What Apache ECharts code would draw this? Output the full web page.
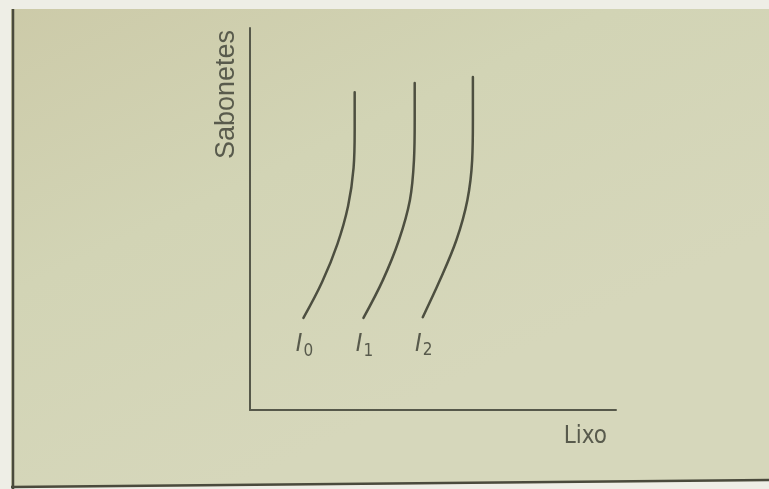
<!DOCTYPE html>
<html>
<head>
<meta charset="utf-8">
<script src="https://cdn.jsdelivr.net/npm/echarts@6/dist/echarts.min.js"></script>
<style>
  html, body { margin: 0; padding: 0; background: #f2f2ea; }
  #main { width: 769px; height: 489px; }
</style>
</head>
<body>
<div id="main"></div>
<script>
// curvas de indiferença (eixos 0..100)
const curveNames = ['0', '1', '2'];
const curveI0 = [[28.6, 83.2], [28.6, 73.3], [28.3, 63.4], [26.8, 53.4], [23.9, 43.5], [19.7, 33.5], [14.6, 24.1]];
const curveI1 = [[45.0, 85.6], [45.0, 75.9], [44.8, 65.4], [43.7, 55.0], [40.7, 44.5], [36.3, 34.0], [31.0, 24.1]];
const curveI2 = [[60.9, 87.2], [60.9, 75.9], [60.7, 65.4], [59.4, 55.0], [56.4, 44.5], [51.9, 34.0], [47.2, 24.3]];
const curves = [curveI0, curveI1, curveI2];

const ink = '#4d4f40';
const textInk = '#585a4c';
const narrow = 'DejaVu Sans Condensed, Liberation Sans Narrow, Roboto, sans-serif';

const chart = echarts.init(document.getElementById('main'));

// monta as séries, rótulo I_n no ponto de baixo
const series = curves.map((pts, k) => ({
  type: 'line',
  smooth: 0.35,
  symbol: 'circle',
  symbolSize: 0,
  showSymbol: true,
  lineStyle: { color: ink, width: 2.5, cap: 'round' },
  data: pts.map((p, i) => i === pts.length - 1 ? {
    value: p,
    label: {
      show: true,
      position: 'bottom',
      distance: 12,
      offset: [1, 0],
      formatter: '{i|I}{s|' + curveNames[k] + '}',
      rich: {
        i: { fontFamily: narrow, fontStyle: 'italic', fontSize: 25, color: textInk, lineHeight: 30, verticalAlign: 'middle' },
        s: { fontFamily: narrow, fontSize: 17, color: textInk, lineHeight: 30, verticalAlign: 'bottom', padding: [12, 0, 0, 1] }
      }
    }
  } : p)
}));

var option = {
  backgroundColor: {
    type: 'linear', x: 0, y: 0, x2: 0.3, y2: 1,
    colorStops: [
      { offset: 0, color: '#cccaa8' },
      { offset: 0.5, color: '#d2d4b5' },
      { offset: 1, color: '#d6d7bb' }
    ]
  },
  animation: false,
  grid: { left: 250, top: 28, right: 153, bottom: 79 },
  xAxis: {
    type: 'value', min: 0, max: 100,
    axisLine: { show: true, lineStyle: { color: '#56584a', width: 2 } },
    axisTick: { show: false }, axisLabel: { show: false }, splitLine: { show: false },
    name: 'Lixo',
    nameLocation: 'end',
    nameGap: -9,
    nameTextStyle: {
      fontFamily: narrow, fontSize: 24, color: textInk,
      align: 'right', verticalAlign: 'top', padding: [15, 0, 0, 0]
    }
  },
  yAxis: {
    type: 'value', min: 0, max: 100,
    axisLine: { show: true, lineStyle: { color: '#56584a', width: 2 } },
    axisTick: { show: false }, axisLabel: { show: false }, splitLine: { show: false },
    name: 'Sabonetes',
    nameLocation: 'end',
    nameRotate: 90,
    nameGap: -2,
    nameTextStyle: {
      fontFamily: 'Liberation Sans, Arial, sans-serif', fontSize: 27, color: textInk,
      align: 'right', verticalAlign: 'bottom', padding: [0, 0, 10, 0]
    }
  },
  graphic: [
    { type: 'rect', silent: true, shape: { x: 0, y: 0, width: 769, height: 9 }, style: { fill: '#eeeee6' } },
    { type: 'rect', silent: true, shape: { x: 0, y: 0, width: 11, height: 489 }, style: { fill: '#eeeee6' } },
    { type: 'polygon', silent: true, shape: { points: [[11, 488], [769, 481], [769, 489], [11, 489]] }, style: { fill: '#eeeee6' } },
    { type: 'line', silent: true, shape: { x1: 13, y1: 9, x2: 13, y2: 489 }, style: { stroke: '#4a4a3c', lineWidth: 2.5 } },
    { type: 'line', silent: true, shape: { x1: 11, y1: 487, x2: 769, y2: 480 }, style: { stroke: '#4a4a3c', lineWidth: 2.5 } }
  ],
  series: series
};

chart.setOption(option);
</script>
</body>
</html>
